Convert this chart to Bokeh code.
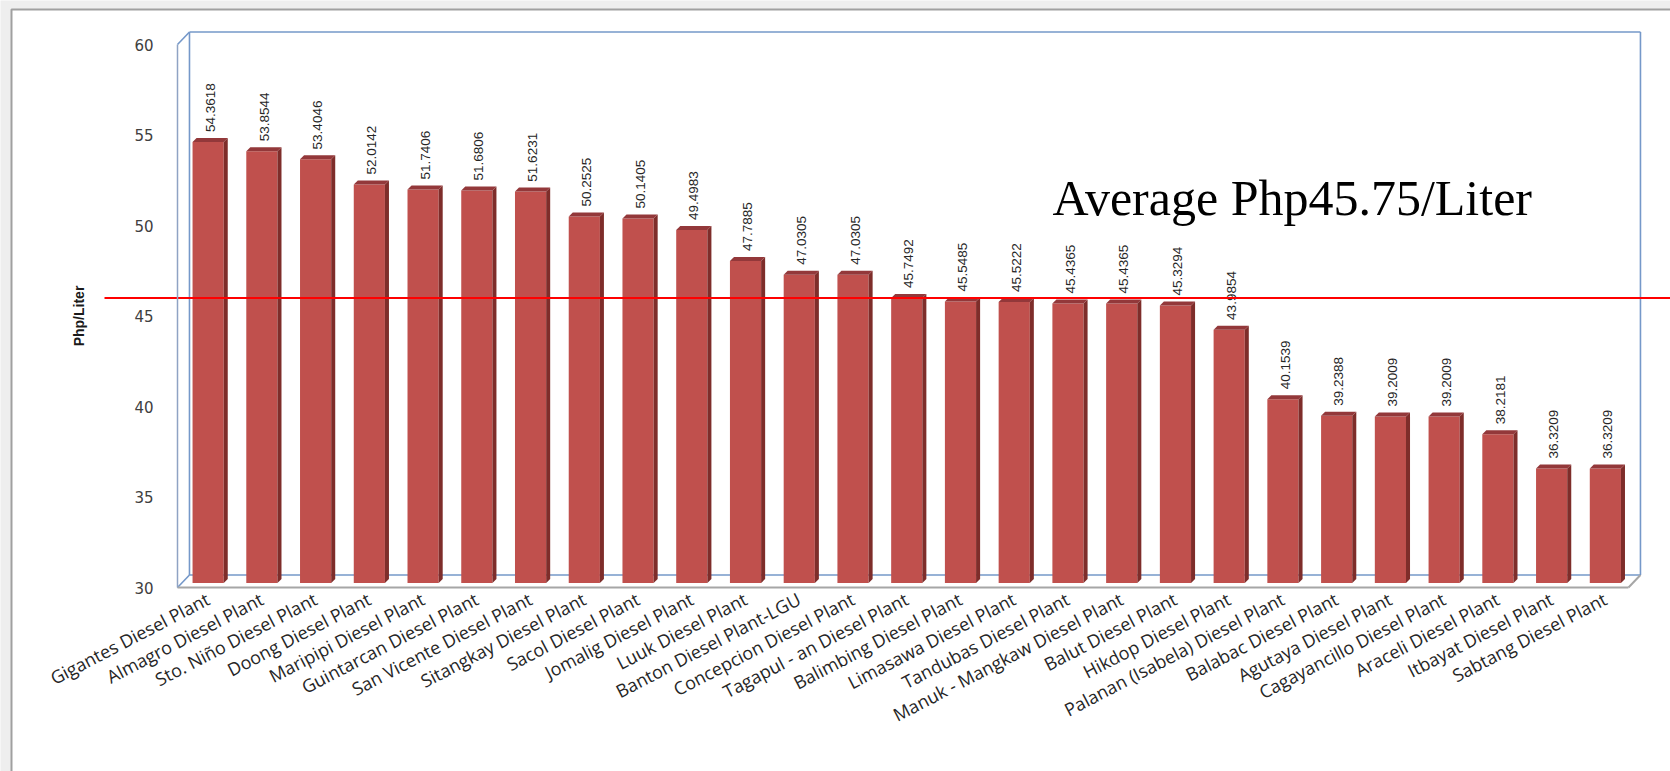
import math
from bokeh.plotting import figure
from bokeh.models import ColumnDataSource, Range1d, FixedTicker
from bokeh.transform import dodge
from bokeh.core.properties import value
from bokeh.embed import file_html
from bokeh.resources import INLINE

# ---------------- data ----------------
plants = [
    "Gigantes Diesel Plant", "Almagro Diesel Plant", "Sto. Niño Diesel Plant",
    "Doong Diesel Plant", "Maripipi Diesel Plant", "Guintarcan Diesel Plant",
    "San Vicente Diesel Plant", "Sitangkay Diesel Plant", "Sacol Diesel Plant",
    "Jomalig Diesel Plant", "Luuk Diesel Plant", "Banton Diesel Plant-LGU",
    "Concepcion Diesel Plant", "Tagapul - an Diesel Plant", "Balimbing Diesel Plant",
    "Limasawa Diesel Plant", "Tandubas Diesel Plant", "Manuk - Mangkaw Diesel Plant",
    "Balut Diesel Plant", "Hikdop Diesel Plant", "Palanan (Isabela) Diesel Plant",
    "Balabac Diesel Plant", "Agutaya Diesel Plant", "Cagayancillo Diesel Plant",
    "Araceli Diesel Plant", "Itbayat Diesel Plant", "Sabtang Diesel Plant",
]
price_php_per_liter = [
    54.3618, 53.8544, 53.4046, 52.0142, 51.7406, 51.6806, 51.6231, 50.2525,
    50.1405, 49.4983, 47.7885, 47.0305, 47.0305, 45.7492, 45.5485, 45.5222,
    45.4365, 45.4365, 45.3294, 43.9854, 40.1539, 39.2388, 39.2009, 39.2009,
    38.2181, 36.3209, 36.3209,
]
average_price = 45.75
y_ticks = [30, 35, 40, 45, 50, 55, 60]
y_label = "Php/Liter"

# ---------------- layout constants ----------------
W, H = 1670, 771
Y_MIN, Y_MAX = 30, 60
PX_PER_CAT = 53.74
PX_PER_UNIT = 18.1
FRONT_LEFT_PX = 177
FLOOR_PX = 587
X0 = -0.57          # front-left corner of the 3D box in category units

def xd(px):
    return X0 + (px - FRONT_LEFT_PX) / PX_PER_CAT

def yd(py):
    return Y_MIN + (FLOOR_PX - py) / PX_PER_UNIT

N = len(plants)
X1 = X0 + N
DX, DY = 0.223, 0.69          # back-wall depth offset
BAR_HALF = 0.29
BAR_DY = 0.25                 # bar front face lift (mid-depth)
SIDE_DX, SIDE_DY = 0.075, 0.22

p = figure(width=W, height=H, output_backend="svg", toolbar_location=None,
           x_range=Range1d(xd(0), xd(W)), y_range=Range1d(yd(H), yd(0)),
           min_border=0, min_border_left=0, min_border_right=0,
           min_border_top=0, min_border_bottom=0)
p.outline_line_color = None
p.xgrid.visible = False
p.ygrid.visible = False
p.background_fill_color = "#eeeeee"
p.border_fill_color = "#eeeeee"

# slide area with border
p.quad(left=[xd(11)], right=[xd(W + 20)], top=[yd(9)], bottom=[yd(H + 20)],
       fill_color="white", line_color="#a0a0a0", line_width=2)

# 3D box (back wall + floor)
blue = "#7598c9"
p.multi_line(
    xs=[[X0 + DX, X1 + DX], [X0 + DX, X0 + DX], [X1 + DX, X1 + DX], [X0 + DX, X1 + DX],
        [X0, X0 + DX], [X0, X0 + DX]],
    ys=[[Y_MAX + DY, Y_MAX + DY], [Y_MIN + DY, Y_MAX + DY], [Y_MIN + DY, Y_MAX + DY],
        [Y_MIN + DY, Y_MIN + DY], [Y_MAX, Y_MAX + DY], [Y_MIN, Y_MIN + DY]],
    line_color=blue, line_width=1.6)
p.multi_line(xs=[[X1, X1 + DX]], ys=[[Y_MIN, Y_MIN + DY]], line_color="#a6a6a6", line_width=2)

# bars
src = ColumnDataSource(dict(
    x=list(range(N)),
    price=price_php_per_liter,
    label=[f"{v:.4f}" for v in price_php_per_liter],
))
side_xs, side_ys, top_xs, top_ys = [], [], [], []
for i, v in enumerate(price_php_per_liter):
    b = Y_MIN + BAR_DY
    t = v + BAR_DY
    l, r = i - BAR_HALF, i + BAR_HALF
    side_xs.append([r, r + SIDE_DX, r + SIDE_DX, r])
    side_ys.append([b, b + SIDE_DY, t + SIDE_DY, t])
    top_xs.append([l, r, r + SIDE_DX, l + SIDE_DX])
    top_ys.append([t, t, t + SIDE_DY, t + SIDE_DY])

p.vbar(x="x", width=2 * BAR_HALF, bottom=Y_MIN + BAR_DY, top=dodge("price", BAR_DY),
       source=src, fill_color="#c0504d", line_color=None)
p.patches(xs=side_xs, ys=side_ys, fill_color="#7e2d2a", line_color=None)
p.patches(xs=top_xs, ys=top_ys, fill_color="#93383a", line_color=None)

# value labels
p.text(x=dodge("x", 0.04), y=dodge("price", 0.8), text="label", source=src,
       angle=math.pi / 2, text_align="left", text_baseline="middle",
       text_font=value("Liberation Sans"), text_font_size="13.5px",
       text_color="#262626")

# average line and annotation
avg_y = average_price + BAR_DY
p.segment(x0=[xd(104)], x1=[xd(W + 10)], y0=[avg_y], y1=[avg_y],
          line_color="#ff0000", line_width=2)
p.text(x=[xd(1052)], y=[yd(197)], text=[f"Average Php{average_price:.2f}/Liter"],
       text_font=value("Liberation Serif"), text_font_size="50px",
       text_align="left", text_baseline="alphabetic", text_color="black")

# axes
xa = p.xaxis[0]
xa.fixed_location = Y_MIN
xa.bounds = (X0, X1)
xa.ticker = FixedTicker(ticks=list(range(N)))
xa.major_label_overrides = {i: name for i, name in enumerate(plants)}
xa.major_label_orientation = 0.48
xa.major_label_standoff = 10
xa.major_tick_in = 0
xa.major_tick_out = 0
xa.minor_tick_in = 0
xa.minor_tick_out = 0
xa.axis_line_color = "#a6a6a6"
xa.axis_line_width = 2
xa.major_label_text_font = "Open Sans"
xa.major_label_text_font_size = "18px"
xa.major_label_text_color = "#262626"

ya = p.yaxis[0]
ya.fixed_location = X0
ya.bounds = (Y_MIN, Y_MAX)
ya.ticker = FixedTicker(ticks=y_ticks)
ya.major_tick_in = 0
ya.major_tick_out = 0
ya.minor_tick_in = 0
ya.minor_tick_out = 0
ya.axis_line_color = "#8fa3c4"
ya.axis_line_width = 1.5
ya.major_label_standoff = 24
ya.major_label_text_font = "DejaVu Sans"
ya.major_label_text_font_size = "15px"
ya.major_label_text_color = "#404040"
ya.axis_label = y_label
ya.axis_label_standoff = 44
ya.axis_label_text_font = "Liberation Sans"
ya.axis_label_text_font_style = "bold"
ya.axis_label_text_font_size = "14px"
ya.axis_label_text_color = "#1a1a1a"

open("out.html", "w").write(file_html(p, INLINE))
